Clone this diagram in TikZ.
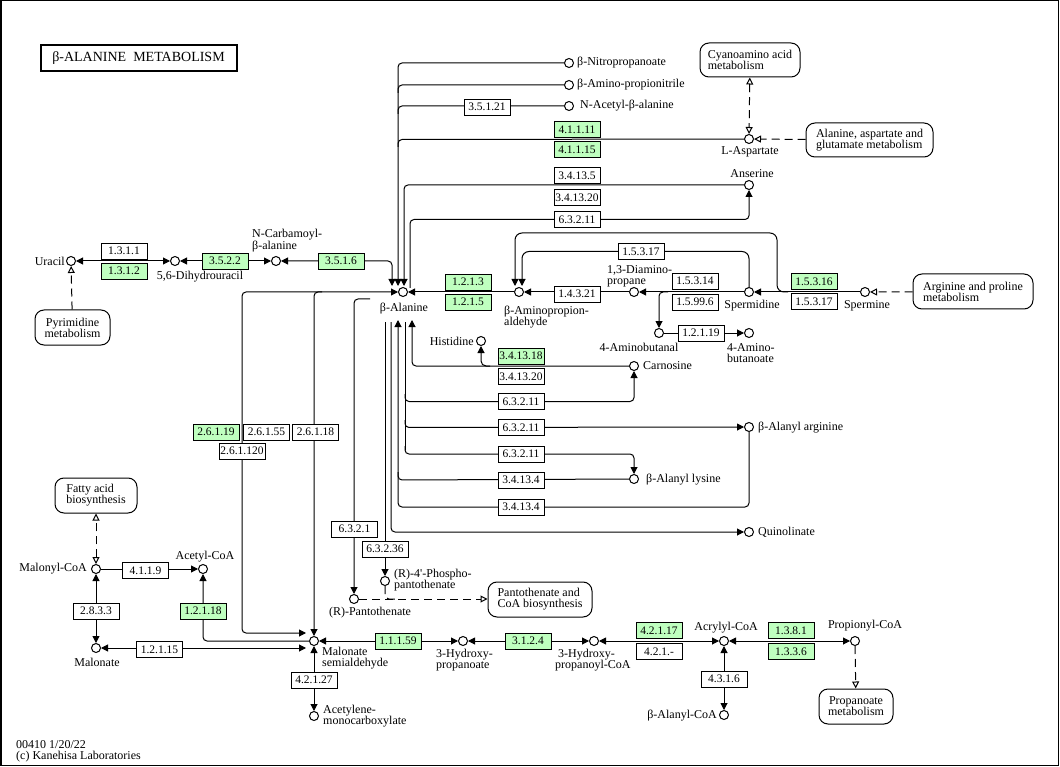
\documentclass[tikz,border=0pt]{standalone}
\usepackage{fontspec}
\setmainfont{Liberation Serif}
\usetikzlibrary{arrows.meta,backgrounds}
\definecolor{kgreen}{RGB}{191,255,191}
\tikzset{
 cpd/.style={circle,draw,line width=1pt,minimum size=9pt,inner sep=0pt,fill=white},
 enz/.style={draw,line width=0.9pt,minimum width=46pt,minimum height=16pt,inner sep=0pt,fill=white,font=\fontsize{11.5}{12}\selectfont},
 genz/.style={enz,fill=kgreen},
 mapbox/.style={draw,line width=1pt,rounded corners=9pt,align=left,inner sep=0pt,font=\fontsize{12}{11}\selectfont,fill=white},
 lbl/.style={inner sep=0pt,font=\fontsize{12}{11}\selectfont},
 rx/.style={line width=1pt,rounded corners=4pt},
 rfwd/.style={rx,-{Triangle[length=7pt,width=7pt]}},
 rboth/.style={rx,{Triangle[length=7pt,width=7pt]}-{Triangle[length=7pt,width=7pt]}},
 lnk/.style={line width=1pt,dash pattern=on 8pt off 5pt,rounded corners=4pt},
 lfwd/.style={lnk,-{Triangle[open,length=7pt,width=7pt,fill=white]}},
 lboth/.style={lnk,{Triangle[open,length=7pt,width=7pt,fill=white]}-{Triangle[open,length=7pt,width=7pt,fill=white]}},
}
\begin{document}
\begin{tikzpicture}[x=1pt,y=-1pt]
\useasboundingbox (0,0) rectangle (1060,767);
% title
\node[draw,line width=2pt,minimum width=196pt,minimum height=26pt,inner sep=0pt,font=\fontsize{14}{14}\selectfont] (title) at (138.5,58.5) {β-ALANINE\ \ METABOLISM};
% compounds
\node[cpd] (uracil) at (71,261) {};
\node[cpd] (dhu) at (175,261) {};
\node[cpd] (ncarb) at (276,261) {};
\node[cpd] (bala) at (403,292) {};
\node[cpd] (bapa) at (519,292) {};
\node[cpd] (dap) at (634,292) {};
\node[cpd] (spd) at (749,292) {};
\node[cpd] (spm) at (865,292) {};
\node[cpd] (abut) at (659,333) {};
\node[cpd] (abuta) at (749,333) {};
\node[cpd] (nitro) at (569,63) {};
\node[cpd] (apn) at (569,85) {};
\node[cpd] (nacb) at (569,106) {};
\node[cpd] (asp) at (749,139) {};
\node[cpd] (ans) at (749,185) {};
\node[cpd] (his) at (481,341) {};
\node[cpd] (car) at (634,366) {};
\node[cpd] (baarg) at (749,427) {};
\node[cpd] (balys) at (634,479) {};
\node[cpd] (quin) at (749,532) {};
\node[cpd] (pant) at (354,599) {};
\node[cpd] (ppant) at (385,581) {};
\node[cpd] (malcoa) at (96,569) {};
\node[cpd] (accoa) at (203,569) {};
\node[cpd] (malo) at (96,648) {};
\node[cpd] (msa) at (314,641) {};
\node[cpd] (acmc) at (314,716) {};
\node[cpd] (hp) at (463,641) {};
\node[cpd] (hpcoa) at (594,641) {};
\node[cpd] (acr) at (724,641) {};
\node[cpd] (bacoa) at (724,715) {};
\node[cpd] (prop) at (855,641) {};
% compound labels
\node[lbl,anchor=east] (luracil) at (65,261) {Uracil};
\node[lbl] (ldhu) at (200,277) {5,6-Dihydrouracil};
\node[lbl,anchor=west,align=left] (lncarb) at (252,241) {N-Carbamoyl-\\β-alanine};
\node[lbl] (lbala) at (404,309) {β-Alanine};
\node[lbl,anchor=west,align=left] (lbapa) at (504,317) {β-Aminopropion-\\aldehyde};
\node[lbl,anchor=west,align=left] (ldap) at (607,276) {1,3-Diamino-\\propane};
\node[lbl] (lspd) at (752,306) {Spermidine};
\node[lbl] (lspm) at (867,306) {Spermine};
\node[lbl] (labut) at (639,347) {4-Aminobutanal};
\node[lbl,anchor=west,align=left] (labuta) at (727,353) {4-Amino-\\butanoate};
\node[lbl,anchor=west] (lnitro) at (577,63) {β-Nitropropanoate};
\node[lbl,anchor=west] (lapn) at (577,85) {β-Amino-propionitrile};
\node[lbl,anchor=west] (lnacb) at (580,106) {N-Acetyl-β-alanine};
\node[lbl] (lasp) at (750,152) {L-Aspartate};
\node[lbl] (lans) at (752,174) {Anserine};
\node[lbl,anchor=east] (lhis) at (474,341) {Histidine};
\node[lbl,anchor=west] (lcar) at (643,366) {Carnosine};
\node[lbl,anchor=west] (lbaarg) at (758,428) {β-Alanyl arginine};
\node[lbl,anchor=west] (lbalys) at (646,480) {β-Alanyl lysine};
\node[lbl,anchor=west] (lquin) at (758,532) {Quinolinate};
\node[lbl] (lpant) at (370,613) {(R)-Pantothenate};
\node[lbl,anchor=west,align=left] (lppant) at (394,580) {(R)-4\textquotesingle-Phospho-\\pantothenate};
\node[lbl,anchor=east] (lmalcoa) at (87,569) {Malonyl-CoA};
\node[lbl] (laccoa) at (205,557) {Acetyl-CoA};
\node[lbl] (lmalo) at (97,662) {Malonate};
\node[lbl,anchor=west,align=left] (lmsa) at (322,658) {Malonate\\semialdehyde};
\node[lbl,anchor=west,align=left] (lacmc) at (323,716) {Acetylene-\\monocarboxylate};
\node[lbl,anchor=west,align=left] (lhp) at (436,660) {3-Hydroxy-\\propanoate};
\node[lbl,anchor=west,align=left] (lhpcoa) at (555,660) {\ 3-Hydroxy-\\propanoyl-CoA};
\node[lbl] (lacr) at (726,628) {Acrylyl-CoA};
\node[lbl,anchor=east] (lbacoa) at (717,716) {β-Alanyl-CoA};
\node[lbl] (lprop) at (865,626) {Propionyl-CoA};
% footer
\node[lbl,anchor=west] (foot1) at (16,745) {00410 1/20/22};
\node[lbl,anchor=west] (foot2) at (16,757) {(c) Kanehisa Laboratories};
% map boxes
\node[mapbox,minimum width=100pt,minimum height=34pt] (cyan) at (750,60) {Cyanoamino acid\\metabolism};
\node[mapbox,minimum width=127pt,minimum height=34pt] (aag) at (869.5,140) {Alanine, aspartate and\\glutamate metabolism};
\node[mapbox,minimum width=120pt,minimum height=35pt] (argpro) at (973,291.5) {Arginine and proline\\metabolism};
\node[mapbox,minimum width=75pt,minimum height=35pt,align=center] (pyr) at (72.5,327.5) {Pyrimidine\\metabolism};
\node[mapbox,minimum width=82pt,minimum height=35pt] (fab) at (96,495.5) {Fatty acid\\biosynthesis};
\node[mapbox,minimum width=104pt,minimum height=35pt] (pantmap) at (540,599.5) {Pantothenate and\\CoA biosynthesis};
\node[mapbox,minimum width=74pt,minimum height=35pt,align=center] (propmap) at (856,706.5) {Propanoate\\metabolism};
% enzymes
\node[enz] (e1311) at (124,251) {1.3.1.1};
\node[genz] (e1312) at (124,271) {1.3.1.2};
\node[genz] (e3522) at (225,261) {3.5.2.2};
\node[genz] (e3516) at (341,261) {3.5.1.6};
\node[enz] (e35121) at (487,107) {3.5.1.21};
\node[genz] (e41111) at (577,129.5) {4.1.1.11};
\node[genz] (e41115) at (577,149.5) {4.1.1.15};
\node[enz] (e34135) at (577,175.5) {3.4.13.5};
\node[enz] (e341320a) at (577,197.5) {3.4.13.20};
\node[enz] (e63211a) at (577,219.5) {6.3.2.11};
\node[enz] (e15317a) at (641,251.5) {1.5.3.17};
\node[genz] (e1213) at (468,282) {1.2.1.3};
\node[genz] (e1215) at (468,302) {1.2.1.5};
\node[enz] (e14321) at (577,294) {1.4.3.21};
\node[enz] (e15314) at (695,281) {1.5.3.14};
\node[enz] (e15996) at (695,302) {1.5.99.6};
\node[enz] (e12119) at (701,333) {1.2.1.19};
\node[genz] (e15316) at (814,281.5) {1.5.3.16};
\node[enz] (e15317b) at (814,301.5) {1.5.3.17};
\node[genz] (e341318) at (521,356) {3.4.13.18};
\node[enz] (e341320b) at (521,376.5) {3.4.13.20};
\node[enz] (e63211b) at (521,401.5) {6.3.2.11};
\node[enz] (e63211c) at (521,427.5) {6.3.2.11};
\node[enz] (e63211d) at (521,454) {6.3.2.11};
\node[enz] (e3414a) at (521,480) {3.4.13.4};
\node[enz] (e3414b) at (521,507) {3.4.13.4};
\node[genz] (e26119) at (216,432) {2.6.1.19};
\node[enz] (e26155) at (266.5,432) {2.6.1.55};
\node[enz] (e26118) at (315.5,432) {2.6.1.18};
\node[enz] (e261120) at (242,451) {2.6.1.120};
\node[enz] (e6321) at (354.5,529) {6.3.2.1};
\node[enz] (e63236) at (385,549) {6.3.2.36};
\node[enz] (e4119) at (145.5,570.5) {4.1.1.9};
\node[enz] (e2833) at (96,611) {2.8.3.3};
\node[genz] (e12118) at (203,611) {1.2.1.18};
\node[enz] (e12115) at (159.5,649.5) {1.2.1.15};
\node[genz] (e11159) at (398,641) {1.1.1.59};
\node[enz] (e42127) at (314,680) {4.2.1.27};
\node[genz] (e3124) at (528,641) {3.1.2.4};
\node[genz] (e42117) at (659,630.5) {4.2.1.17};
\node[enz] (e421x) at (659,651.5) {4.2.1.-};
\node[genz] (e1381) at (791,630.5) {1.3.8.1};
\node[genz] (e1336) at (791,651.5) {1.3.3.6};
\node[enz] (e4316) at (724,679) {4.3.1.6};
% junction coordinates
\coordinate (jtop) at (398,63);
\coordinate (jbalaA) at (398,286);
\coordinate (jbalaB) at (404,286);
\coordinate (jbalaC) at (410,288);
\coordinate (jbalaD) at (392,286);
\begin{scope}[on background layer]
\fill[white] (0,0) rectangle (1060,767);
\draw[line width=1.5pt] (0.75,0.75) rectangle (1058.5,765.5);
% pyrimidine
\draw[rboth] (uracil) -- (dhu);
\draw[rboth] (dhu) -- (ncarb);
\draw[rboth] (ncarb) -- (392,261) -- (jbalaD);
\draw[lfwd] (pyr) -- (uracil);
% trunk from top
\draw[rfwd] (nitro) -- (jtop) -- (jbalaA);
\draw[rx] (398,93) -- (398,85) -- (apn);
\draw[rx] (398,114) -- (398,106) -- (nacb);
\draw[rx] (398,147) -- (398,139.5) -- (asp);
\draw[lboth] (cyan) -- (asp);
\draw[lfwd] (aag) -- (asp);
\draw[rfwd] (ans) -- (404,185) -- (jbalaB);
\draw[rfwd] (jbalaC) -- (410,219.5) -- (749,219.5) -- (ans);
% polyamines
\draw[rfwd] (bapa) -- (bala);
\draw[rfwd] (dap) -- (bapa);
\draw[rfwd] (spd) -- (dap);
\draw[rfwd] (668,292) -- (659,292) -- (abut);
\draw[rfwd] (abut) -- (abuta);
\draw[rfwd] (spm) -- (spd);
\draw[lfwd] (argpro) -- (spm);
\draw[rfwd,rounded corners=7pt] (788,292) -- (777,292) -- (777,233) -- (515,233) -- (515,286);
\draw[rfwd,rounded corners=7pt] (spd) -- (749,251.5) -- (522,251.5) -- (522,286);
% below beta-alanine
\draw[rfwd] (car) -- (412,366) -- (412,320);
\draw[rfwd,rounded corners=5pt] (490,366) -- (481,366) -- (his);
\draw[rx] (405,322) -- (405,450);
\draw[rfwd] (405,394) -- (405,401.5) -- (634,401.5) -- (car);
\draw[rfwd] (405,420) -- (405,427.5) -- (baarg);
\draw[rfwd] (405,446) -- (405,454) -- (634,454) -- (balys);
\draw[rfwd] (baarg) -- (749,507) -- (398,507) -- (398,320);
\draw[rx] (398,472) -- (398,480) -- (balys);
\draw[rfwd] (391,322) -- (391,532) -- (quin);
\draw[rfwd] (385,322) -- (ppant);
\draw[rfwd] (370,299) -- (354,299) -- (pant);
\draw[lfwd] (pant) -- (pantmap.west |- pant);
\draw[lnk] (ppant) -- (385,599) -- (398,599);
% transaminases
\draw[rboth] (306,633) -- (242,633) -- (242,292) -- (bala);
\draw[rfwd] (322,292) -- (314,292) -- (msa);
% malonate area
\draw[rfwd] (msa) -- (203,641) -- (accoa);
\draw[rboth] (malo) -- (306,648);
\draw[rboth] (malcoa) -- (malo);
\draw[rfwd] (malcoa) -- (accoa);
\draw[lboth] (malcoa) -- (fab);
\draw[rboth] (msa) -- (acmc);
% bottom row
\draw[rboth] (msa) -- (hp);
\draw[rboth] (hp) -- (hpcoa);
\draw[rboth] (hpcoa) -- (acr);
\draw[rboth] (acr) -- (prop);
\draw[rboth] (acr) -- (bacoa);
\draw[lfwd] (prop) -- (propmap);
\end{scope}
\end{tikzpicture}
\end{document}
